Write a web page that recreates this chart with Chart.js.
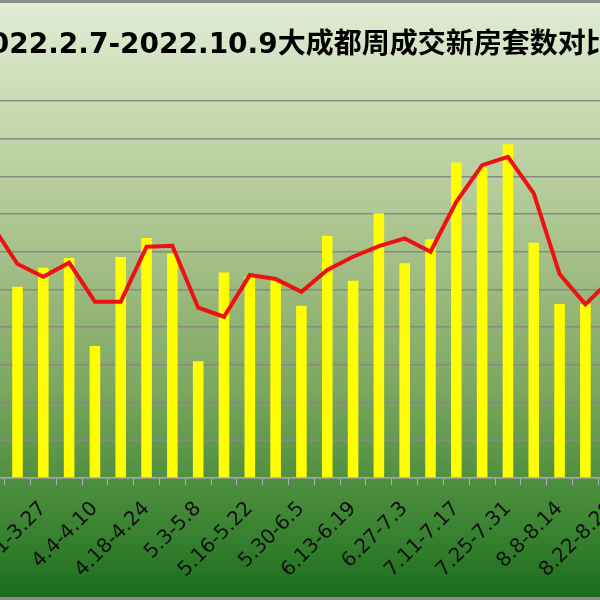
<!DOCTYPE html>
<html>
<head>
<meta charset="utf-8">
<script src="https://cdn.jsdelivr.net/npm/chart.js@4"></script>
<style>
  html, body { margin: 0; padding: 0; width: 600px; height: 600px; overflow: hidden; background: #ffffff; }
  #wrap { position: absolute; left: -254px; top: 0; width: 1100px; height: 600px; }
</style>
</head>
<body>
<div id="wrap"><canvas id="chart-weekly"></canvas></div>
<script>
// weekly periods, 2022.2.7 - 2022.10.9
var weekLabels = [
    "2.7-2.13", "2.14-2.20", "2.21-2.27", "2.28-3.6", "3.7-3.13", "3.14-3.20", "3.21-3.27",
    "3.28-4.3", "4.4-4.10", "4.11-4.17", "4.18-4.24", "4.25-5.2", "5.3-5.8", "5.9-5.15",
    "5.16-5.22", "5.23-5.29", "5.30-6.5", "6.6-6.12", "6.13-6.19", "6.20-6.26", "6.27-7.3",
    "7.4-7.10", "7.11-7.17", "7.18-7.24", "7.25-7.31", "8.1-8.7", "8.8-8.14", "8.15-8.21",
    "8.22-8.28", "8.29-9.4", "9.5-9.11", "9.12-9.18", "9.19-9.25", "9.26-10.2", "10.3-10.9"
];

// yellow bars (only the weeks visible in the picture are known)
var barSets = [
    null, null, null, null, null,
    2537, 2789, 2917, 1750, 2930, 3182, 2979, 1547, 2727, 2669, 2625, 2285,
    3213, 2616, 3510, 2847, 3165, 4186, 4115, 4425, 3120, 2307, 2303,
    null, null, null, null, null, null, null
];

// red line
var lineSets = [
    null, null, null, null,
    3360, 2838, 2669, 2855, 2338, 2338, 3067, 3080, 2258, 2139, 2692, 2639, 2470,
    2758, 2934, 3076, 3178, 3001, 3664, 4150, 4260, 3775, 2705, 2303, 2639,
    null, null, null, null, null, null
];

var yTicks = { min: 0, max: 5000, step: 500 };

var bgPlugin = {
    id: 'bgGradient',
    beforeDraw: function (chart) {
        var ctx = chart.ctx;
        var h = chart.height;
        var w = chart.width;
        var g = ctx.createLinearGradient(0, 0, 0, h);
        g.addColorStop(0, '#e1ecd6');
        g.addColorStop(0.2, '#c6d9ad');
        g.addColorStop(0.45, '#a1bd84');
        g.addColorStop(0.65, '#7ca75f');
        g.addColorStop(0.8, '#4f8f40');
        g.addColorStop(0.9, '#35802e');
        g.addColorStop(1, '#1a6b1d');
        ctx.save();
        ctx.fillStyle = g;
        ctx.fillRect(0, 0, w, h);
        ctx.fillStyle = '#8c8c8c';
        ctx.fillRect(0, 0, w, 3);
        ctx.fillRect(0, h - 3, w, 3);
        ctx.restore();
    }
};

function createWeeklyChart(id) {
    var ctx = document.getElementById(id).getContext('2d');
    return new Chart(ctx, {
        type: 'bar',
        data: {
            labels: weekLabels,
            datasets: [{
                type: 'line',
                label: '',
                data: lineSets,
                borderColor: '#ee1111',
                borderWidth: 4,
                pointRadius: 0,
                tension: 0,
                fill: false,
                order: 0
            }, {
                type: 'bar',
                label: '',
                data: barSets,
                backgroundColor: '#ffff00',
                borderWidth: 0,
                barPercentage: 0.41,
                categoryPercentage: 1.0,
                order: 1
            }]
        },
        options: {
            responsive: true,
            maintainAspectRatio: false,
            animation: false,
            layout: {
                padding: { left: 59, right: 67, top: 0, bottom: 0 }
            },
            plugins: {
                legend: { display: false },
                tooltip: { enabled: false },
                title: {
                    display: true,
                    text: '2022.2.7-2022.10.9大成都周成交新房套数对比',
                    color: '#000000',
                    font: {
                        family: "'DejaVu Sans', 'Noto Sans CJK SC'",
                        size: 28,
                        weight: 'bold'
                    },
                    padding: { top: 29, bottom: 38.4 }
                }
            },
            scales: {
                x: {
                    afterFit: function (scale) { scale.height = 122; },
                    grid: {
                        offset: true,
                        drawOnChartArea: false,
                        drawTicks: true,
                        tickLength: 7,
                        color: '#b4b4b4'
                    },
                    border: { display: true, color: '#a8a8a8', width: 1.5 },
                    ticks: {
                        autoSkip: false,
                        minRotation: 45,
                        maxRotation: 45,
                        padding: 12,
                        color: '#111111',
                        font: { family: "'DejaVu Sans'", size: 20 },
                        callback: function (value, index) {
                            return index % 2 === 0 ? this.getLabelForValue(value) : '';
                        }
                    }
                },
                y: {
                    min: yTicks.min,
                    max: yTicks.max,
                    afterFit: function (scale) { scale.width = 70.5; },
                    grid: {
                        color: '#888888',
                        lineWidth: 1.5,
                        drawTicks: false
                    },
                    border: { display: false },
                    ticks: {
                        stepSize: yTicks.step,
                        color: '#111111',
                        font: { family: "'DejaVu Sans'", size: 16 }
                    }
                }
            }
        },
        plugins: [bgPlugin]
    });
}

var chartWeekly = createWeeklyChart('chart-weekly');
</script>
</body>
</html>
